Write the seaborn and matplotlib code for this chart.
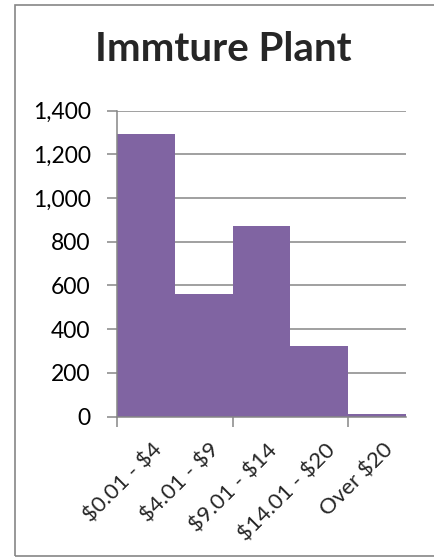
import matplotlib
matplotlib.use('Agg')
import matplotlib.pyplot as plt
import matplotlib.ticker as mticker
import matplotlib.transforms as mtransforms
import pandas as pd
import seaborn as sns

# Data
price_ranges = ['$0.01 - $4', '$4.01 - $9', '$9.01 - $14', '$14.01 - $20', 'Over $20']
counts = [1295, 560, 872, 322, 12]

df = pd.DataFrame({'range': price_ranges, 'count': counts})

sns.set_style('white')
plt.rcParams['font.family'] = ['Lato', 'DejaVu Sans']

fig = plt.figure(figsize=(4.35, 5.57), dpi=100)
ax = fig.add_axes([117 / 435, 1 - 416.5 / 557, (406 - 117) / 435, (416.5 - 110.7) / 557])

sns.barplot(data=df, x='range', y='count', color='#8064A2', saturation=1,
            width=1.0, linewidth=0, ax=ax, zorder=2)

ax.set_xlim(-0.5, len(price_ranges) - 0.5)
ax.set_ylim(0, 1400)
ax.yaxis.set_major_locator(mticker.MultipleLocator(200))
ax.yaxis.set_major_formatter(mticker.FuncFormatter(lambda v, p: f'{int(v):,}'))
ax.grid(axis='y', color='#868686', linewidth=1.1, zorder=0)
ax.set_axisbelow(True)

for side in ['top', 'right']:
    ax.spines[side].set_visible(False)
for side in ['left', 'bottom']:
    ax.spines[side].set_color('#868686')
    ax.spines[side].set_linewidth(1.1)

ax.set_xlabel('')
ax.set_ylabel('')
ax.tick_params(axis='y', which='major', left=True, length=7, width=1.1,
               color='#868686', labelsize=16.5, pad=12, labelcolor='black')

# labels in the middle of each bar, tick marks every second boundary
ax.set_xticks(range(len(price_ranges)))
ax.set_xticklabels([s.replace('$', r'\$') for s in price_ranges])
ax.tick_params(axis='x', which='major', bottom=False, length=0, labelsize=16, pad=17)
ax.set_xticks([-0.5, 1.5, 3.5], minor=True)
ax.tick_params(axis='x', which='minor', bottom=True, length=7, width=1.1, color='#868686')
shift = mtransforms.ScaledTranslation(6 / 100, 0, fig.dpi_scale_trans)
for lbl in ax.get_xticklabels():
    lbl.set_rotation(45)
    lbl.set_ha('right')
    lbl.set_va('top')
    lbl.set_rotation_mode('anchor')
    lbl.set_transform(lbl.get_transform() + shift)

fig.text(0.514, 0.912, 'Immture Plant', ha='center', va='center',
         fontsize=29, fontweight='bold')

# outer chart border (right edge is cut off)
fig.patches.append(plt.Rectangle((15 / 435, 1 - 556 / 557), 1.0, (556 - 4.5) / 557,
                                 transform=fig.transFigure, fill=False,
                                 edgecolor='#868686', linewidth=1.2))

fig.savefig('out.png', dpi=100)
